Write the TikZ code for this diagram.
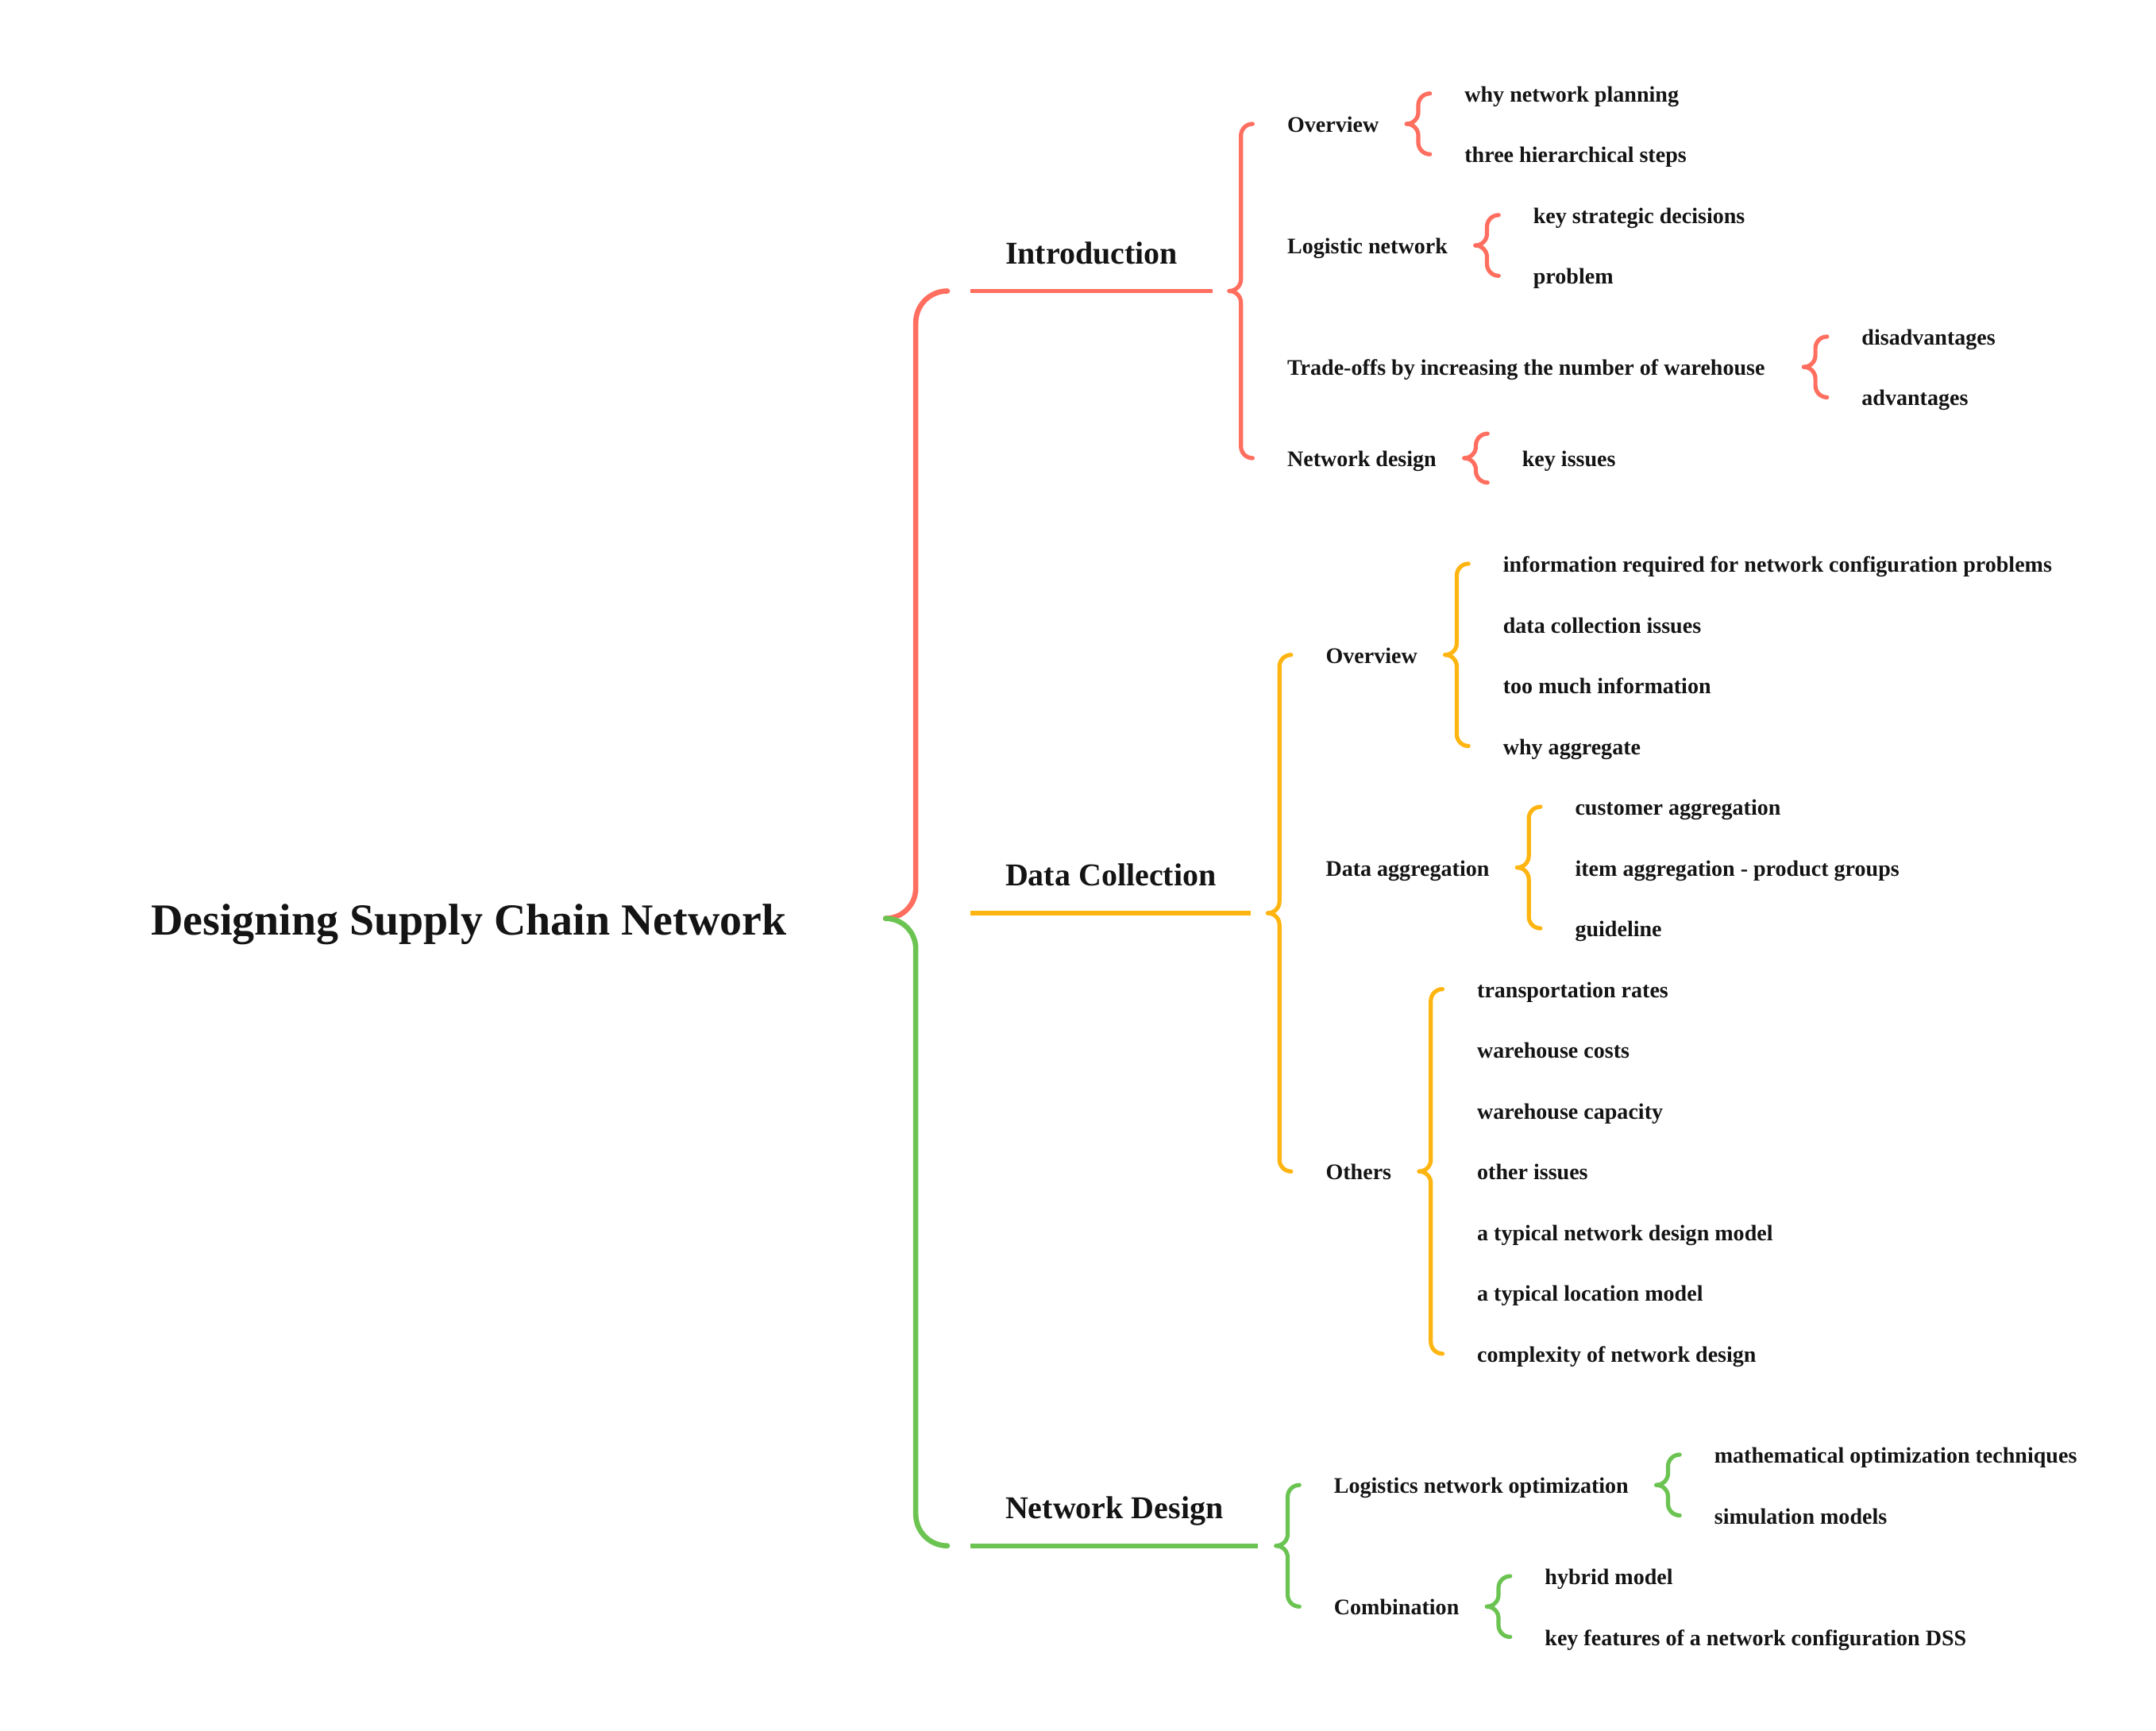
\documentclass[tikz,border=0pt]{standalone}
\usepackage{fontspec}
\setmainfont{Liberation Serif}
\usepackage{tikz}
\usetikzlibrary{calc,positioning}
\definecolor{myred}{RGB}{255,110,95}
\definecolor{myyellow}{RGB}{255,181,17}
\definecolor{mygreen}{RGB}{107,196,82}
\definecolor{ink}{RGB}{20,20,20}
% upper and lower half of a curly brace: style, tip, end, tip bend, end bend
\newcommand\upfork[5]{\draw[#1] (#3) to[out=180,in=90] ($(#3)+(-#5,-#5)$) -- ($(#2)+(#4,#4)$) to[out=-90,in=0] (#2);}
\newcommand\downfork[5]{\draw[#1] (#2) to[out=0,in=90] ($(#2)+(#4,-#4)$) -- ($(#3)+(-#5,#5)$) to[out=-90,in=180] (#3);}
% brace from a parent to its first and last child
\newcommand\bracefork[5][0]{%
  \coordinate (tip) at ($(#4 |- #3)+(-42,0)$);
  \coordinate (top) at ($(#4)+(-25,#1)$);
  \coordinate (bot) at ($(#5)+(-25,-#1)$);
  \upfork{#2}{tip}{top}{8.5}{8.5}\downfork{#2}{tip}{bot}{8.5}{8.5}}

\begin{document}
\begin{tikzpicture}[x=1pt,y=1pt,inner sep=0pt]
\tikzstyle{item}=[font=\fontsize{16.2}{19}\selectfont\bfseries, text=ink, text height=12.2pt, text depth=0pt]
\tikzstyle{topic}=[font=\fontsize{23.1}{27}\selectfont\bfseries, text=ink, text depth=0pt, inner xsep=25pt, inner ysep=19.5pt, anchor=south west]
\tikzstyle{title}=[font=\fontsize{32.3}{38}\selectfont\bfseries, text=ink, text height=24.2pt, text depth=0pt, anchor=west]
\tikzstyle{curl}=[line width=3pt, line cap=round]
\tikzstyle{stem}=[line width=3.4pt]
\useasboundingbox (0,0) rectangle (1568,-1258.45);
\node[title] (root) at (109.7,-668) {Designing Supply Chain Network};
% Introduction
\node[topic] (intro) at (706,-211.65) {Introduction};
\node[item,anchor=west] (iovw) at (936,-90.1) {Overview};
\node[item,anchor=west] (ilog) at (936,-178.5) {Logistic network};
\node[item,anchor=west] (itrd) at (936,-266.9) {Trade-offs by increasing the number of warehouse};
\node[item,anchor=west] (inet) at (936,-333.2) {Network design};
\node[item,above right=22.1pt and 62pt of iovw.east,anchor=west] (iwhy) {why network planning};
\node[item,below=44.2pt of iwhy.west,anchor=west] (ithr) {three hierarchical steps};
\node[item,above right=22.1pt and 62pt of ilog.east,anchor=west] (ikey) {key strategic decisions};
\node[item,below=44.2pt of ikey.west,anchor=west] (iprb) {problem};
\node[item,above right=22.1pt and 70pt of itrd.east,anchor=west] (idis) {disadvantages};
\node[item,below=44.2pt of idis.west,anchor=west] (iadv) {advantages};
\node[item,right=62pt of inet.east,anchor=west] (iiss) {key issues};
% Data Collection
\node[topic] (datac) at (706,-664.15) {Data Collection};
\node[item,anchor=west] (dovw) at (964,-476.3) {Overview};
\node[item,anchor=west] (dagg) at (964,-631) {Data aggregation};
\node[item,anchor=west] (doth) at (964,-852) {Others};
\node[item,above right=66.3pt and 62pt of dovw.east,anchor=west] (dinf) {information required for network configuration problems};
\node[item,below=44.2pt of dinf.west,anchor=west] (dcol) {data collection issues};
\node[item,below=44.2pt of dcol.west,anchor=west] (dtoo) {too much information};
\node[item,below=44.2pt of dtoo.west,anchor=west] (dwhy) {why aggregate};
\node[item,above right=44.2pt and 62pt of dagg.east,anchor=west] (dcus) {customer aggregation};
\node[item,below=44.2pt of dcus.west,anchor=west] (ditm) {item aggregation - product groups};
\node[item,below=44.2pt of ditm.west,anchor=west] (dgui) {guideline};
\node[item,above right=132.6pt and 62pt of doth.east,anchor=west] (dtra) {transportation rates};
\node[item,below=44.2pt of dtra.west,anchor=west] (dwco) {warehouse costs};
\node[item,below=44.2pt of dwco.west,anchor=west] (dwca) {warehouse capacity};
\node[item,below=44.2pt of dwca.west,anchor=west] (doti) {other issues};
\node[item,below=44.2pt of doti.west,anchor=west] (dtnd) {a typical network design model};
\node[item,below=44.2pt of dtnd.west,anchor=west] (dtlm) {a typical location model};
\node[item,below=44.2pt of dtlm.west,anchor=west] (dcpx) {complexity of network design};
% Network Design
\node[topic] (ndes) at (706,-1124.3) {Network Design};
\node[item,anchor=west] (nlno) at (970,-1080.1) {Logistics network optimization};
\node[item,anchor=west] (ncmb) at (970,-1168.5) {Combination};
\node[item,above right=22.1pt and 62pt of nlno.east,anchor=west] (nmat) {mathematical optimization techniques};
\node[item,below=44.2pt of nmat.west,anchor=west] (nsim) {simulation models};
\node[item,above right=22.1pt and 62pt of ncmb.east,anchor=west] (nhyb) {hybrid model};
\node[item,below=44.2pt of nhyb.west,anchor=west] (nkey) {key features of a network configuration DSS};
% root brace
\coordinate (rtop) at ($(intro.south west)+(-17,0)$);
\coordinate (rbot) at ($(ndes.south west)+(-17,0)$);
\coordinate (rtip) at ($(rtop |- root.east)+(-45,0)$);
\upfork{line width=3.8pt,line cap=round,myred}{rtip}{rtop}{22}{23}
\downfork{line width=3.8pt,line cap=round,mygreen}{rtip}{rbot}{22}{23}
% branches
\draw[stem,myred] (intro.south west) -- (intro.south east);
\draw[stem,myyellow] (datac.south west) -- (datac.south east);
\draw[stem,mygreen] (ndes.south west) -- (ndes.south east);
\bracefork{curl,myred}{intro.south east}{iovw.west}{inet.west}
\bracefork{curl,myred}{iovw.west}{iwhy.west}{ithr.west}
\bracefork{curl,myred}{ilog.west}{ikey.west}{iprb.west}
\bracefork{curl,myred}{itrd.west}{idis.west}{iadv.west}
\bracefork[17.8]{curl,myred}{inet.west}{iiss.west}{iiss.west}
\bracefork{curl,myyellow}{datac.south east}{dovw.west}{doth.west}
\bracefork{curl,myyellow}{dovw.west}{dinf.west}{dwhy.west}
\bracefork{curl,myyellow}{dagg.west}{dcus.west}{dgui.west}
\bracefork{curl,myyellow}{doth.west}{dtra.west}{dcpx.west}
\bracefork{curl,mygreen}{ndes.south east}{nlno.west}{ncmb.west}
\bracefork{curl,mygreen}{nlno.west}{nmat.west}{nsim.west}
\bracefork{curl,mygreen}{ncmb.west}{nhyb.west}{nkey.west}
\end{tikzpicture}
\end{document}
